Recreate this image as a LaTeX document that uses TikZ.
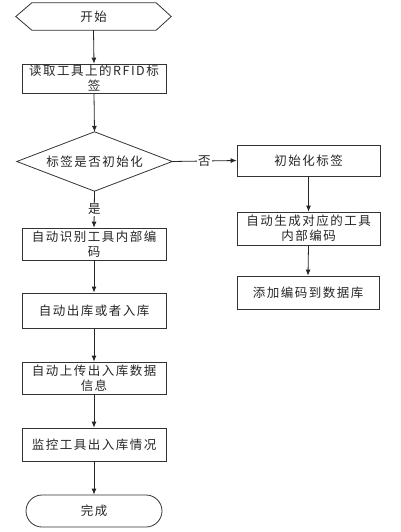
\documentclass[tikz,border=0pt]{standalone}
\usepackage{fontspec}
\setmainfont[LetterSpace=12]{Noto Sans CJK SC}
\usetikzlibrary{arrows.meta,calc}
\begin{document}
\begin{tikzpicture}[x=1pt,y=1pt,
  every node/.style={font=\fontsize{12.5}{15}\selectfont, text=black!85, align=center, inner sep=0pt},
  proc/.style={draw=black!80, line width=0.8pt, minimum width=144pt},
  arr/.style={draw=black!85, line width=0.8pt, -{Latex[length=6pt,width=5pt]}},
  lbl/.style={fill=white, inner sep=1pt}]
\useasboundingbox (0,0) rectangle (400,-532);
% start
\node[minimum width=155pt, minimum height=27pt] (start) at (93.5,-16.5) {开始};
\draw[draw=black!80, line width=0.8pt] (start.west) -- ($(start.north west)+(16,0)$) -- ($(start.north east)+(-15,0)$) -- (start.east) -- ($(start.south east)+(-15,0)$) -- ($(start.south west)+(16,0)$) -- cycle;
\node[proc, minimum height=29pt] (b1) at (94,-78.5) {读取工具上的RFID标\\签};
% decision
\node[minimum width=155pt, minimum height=59pt] (dec) at (94.5,-161.5) {标签是否初始化};
\draw[draw=black!80, line width=0.8pt] (dec.west) -- (dec.north) -- (dec.east) -- (dec.south) -- cycle;
\node[proc, minimum height=32pt] (b2) at (94,-244) {自动识别工具内部编\\码};
\node[proc, minimum height=35pt] (b3) at (94,-310.5) {自动出库或者入库};
\node[proc, minimum height=32pt] (b4) at (94,-378) {自动上传出入库数据\\信息};
\node[proc, minimum height=33pt] (b5) at (94,-444.5) {监控工具出入库情况};
\node[draw=black!80, line width=0.8pt, rounded corners=16pt, minimum width=136pt, minimum height=32pt] (end) at (94,-511) {完成};
% right column
\node[proc, minimum width=143pt, minimum height=31pt] (r1) at (308.5,-160.5) {初始化标签};
\node[proc, minimum width=143pt, minimum height=33pt] (r2) at (308.5,-228.5) {自动生成对应的工具\\内部编码};
\node[proc, minimum width=142pt, minimum height=33pt] (r3) at (308,-292.5) {添加编码到数据库};
% connectors
\draw[arr] (start.south) -- (b1.north);
\draw[arr] (b1.south) -- (dec.north);
\draw[arr] (dec.south) -- node[lbl] {是} (b2.north);
\draw[arr] (b2.south) -- (b3.north);
\draw[arr] (b3.south) -- (b4.north);
\draw[arr] (b4.south) -- (b5.north);
\draw[arr] (b5.south) -- (end.north);
\draw[arr] (dec.east) -- node[lbl] {否} (r1.west);
\draw[arr] (r1.south) -- (r2.north);
\draw[arr] (r2.south) -- (r3.north);
\end{tikzpicture}
\end{document}
